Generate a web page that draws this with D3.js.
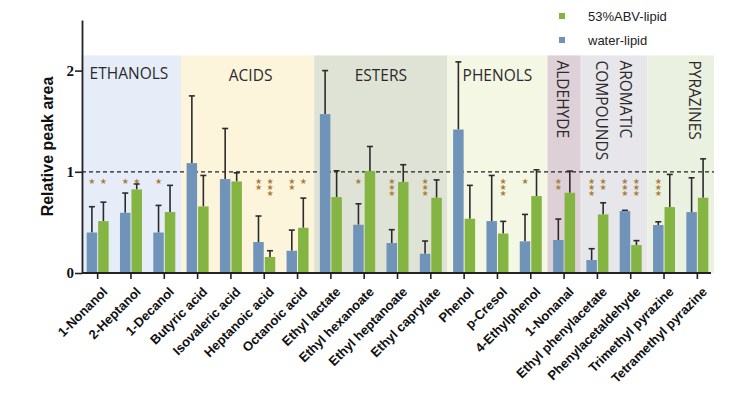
<!DOCTYPE html>
<html>
<head>
<meta charset="utf-8">
<script src="https://cdn.jsdelivr.net/npm/d3@7"></script>
<style>
  body { margin: 0; background: #fff; }
  svg { display: block; }
</style>
</head>
<body>
<div id="chart"></div>
<script>
// compounds on the x axis
const compounds = ["1-Nonanol", "2-Heptanol", "1-Decanol", "Butyric acid", "Isovaleric acid",
  "Heptanoic acid", "Octanoic acid", "Ethyl lactate", "Ethyl hexanoate", "Ethyl heptanoate",
  "Ethyl caprylate", "Phenol", "p-Cresol", "4-Ethylphenol", "1-Nonanal", "Ethyl phenylacetate",
  "Phenylacetaldehyde", "Trimethyl pyrazine", "Tetramethyl pyrazine"];

// water-lipid (blue)
const waterMean = [0.40, 0.595, 0.40, 1.086, 0.928, 0.306, 0.22, 1.57, 0.477, 0.296, 0.19,
  1.418, 0.513, 0.313, 0.326, 0.128, 0.612, 0.474, 0.602];
const waterErr = [0.655, 0.79, 0.668, 1.75, 1.428, 0.563, 0.424, 2.0, 0.684, 0.428, 0.316,
  2.086, 0.964, 0.579, 0.533, 0.24, 0.619, 0.506, 0.941];
// 53%ABV-lipid (green)
const abvMean = [0.513, 0.826, 0.602, 0.658, 0.905, 0.158, 0.447, 0.75, 1.007, 0.90, 0.744,
  0.536, 0.39, 0.76, 0.793, 0.579, 0.276, 0.651, 0.744];
const abvErr = [0.70, 0.88, 0.866, 0.964, 0.99, 0.22, 0.74, 1.01, 1.25, 1.07, 0.92,
  0.866, 0.51, 1.02, 1.007, 0.694, 0.32, 0.974, 1.128];

// number of significance stars above each bar
const waterStars = [1, 1, 1, 0, 0, 2, 2, 0, 1, 3, 3, 0, 0, 1, 2, 3, 3, 3, 0];
const abvStars   = [1, 1, 0, 0, 0, 3, 1, 0, 0, 0, 0, 0, 3, 0, 0, 2, 3, 0, 0];

// compound classes: label lines, first and last compound, fill
const groups = [
  { lines: ["ETHANOLS"], from: 0, to: 2, fill: "#e6edf9", vertical: false, dx: -2, base: 79 },
  { lines: ["ACIDS"], from: 3, to: 6, fill: "#fdf4dc", vertical: false, dx: 3, base: 81 },
  { lines: ["ESTERS"], from: 7, to: 10, fill: "#dfe3d5", vertical: false, dx: 0, base: 81 },
  { lines: ["PHENOLS"], from: 11, to: 13, fill: "#f4f7e4", vertical: false, dx: 0, base: 81 },
  { lines: ["ALDEHYDE"], from: 14, to: 14, fill: "#ddd0d6", vertical: true, dx: -1 },
  { lines: ["AROMATIC", "COMPOUNDS"], from: 15, to: 16, fill: "#e7e6ea", vertical: true, dx: 0 },
  { lines: ["PYRAZINES"], from: 17, to: 18, fill: "#ebf1e1", vertical: true, dx: 14 }
];

const yTicks = [0, 1, 2];
const seriesNames = ["53%ABV-lipid", "water-lipid"];
const blue = "#7093ba", green = "#84b441", starColor = "#a8803e";

const W = 737, H = 399;
const svg = d3.select("#chart").append("svg").attr("width", W).attr("height", H);

const x = d3.scaleBand().domain(compounds).range([81, 714]);
const y = d3.scaleLinear().domain([0, 2.5]).range([273, 20]);

// class backgrounds
svg.append("g").selectAll("rect").data(groups).join("rect")
  .attr("x", d => x(compounds[d.from]))
  .attr("width", d => x(compounds[d.to]) + x.bandwidth() - x(compounds[d.from]))
  .attr("y", y(2.15))
  .attr("height", y(0) - y(2.15))
  .attr("fill", d => d.fill);

// class labels
const gl = svg.append("g").attr("font-family", "'Open Sans', sans-serif")
  .attr("font-size", 15.5).attr("fill", "#2a2a2a");
groups.forEach(g => {
  const x0 = x(compounds[g.from]), x1 = x(compounds[g.to]) + x.bandwidth();
  const cx = (x0 + x1) / 2 + g.dx;
  if (!g.vertical) {
    gl.append("text").attr("x", cx).attr("y", g.base)
      .attr("text-anchor", "middle").text(g.lines[0]);
  } else {
    const n = g.lines.length;
    g.lines.forEach((line, i) => {
      const lx = cx + ((n - 1) / 2 - i) * 24 - 6;
      gl.append("text")
        .attr("transform", `translate(${lx},${y(2.15) + 5}) rotate(90)`)
        .attr("text-anchor", "start").text(line);
    });
  }
});

// reference line at 1
svg.append("line")
  .attr("x1", 82).attr("x2", 714).attr("y1", y(1)).attr("y2", y(1))
  .attr("stroke", "#222").attr("stroke-width", 1.2).attr("stroke-dasharray", "4,3");

const bw = 10.5;
const series = [
  { mean: waterMean, err: waterErr, stars: waterStars, color: blue, off: -bw - 0.5 },
  { mean: abvMean, err: abvErr, stars: abvStars, color: green, off: 0.5 }
];

series.forEach(s => {
  const g = svg.append("g");
  const cx = i => x(compounds[i]) + x.bandwidth() / 2 + s.off;
  // error whisker
  g.selectAll("line.err").data(compounds).join("line")
    .attr("x1", (d, i) => cx(i) + bw / 2).attr("x2", (d, i) => cx(i) + bw / 2)
    .attr("y1", (d, i) => y(s.mean[i])).attr("y2", (d, i) => y(s.err[i]))
    .attr("stroke", "#2b2b2b").attr("stroke-width", 1.6);
  g.selectAll("line.cap").data(compounds).join("line")
    .attr("x1", (d, i) => cx(i) + bw / 2 - 3).attr("x2", (d, i) => cx(i) + bw / 2 + 3)
    .attr("y1", (d, i) => y(s.err[i])).attr("y2", (d, i) => y(s.err[i]))
    .attr("stroke", "#2b2b2b").attr("stroke-width", 1.6);
  g.selectAll("rect").data(compounds).join("rect")
    .attr("x", (d, i) => cx(i)).attr("width", bw)
    .attr("y", (d, i) => y(s.mean[i]))
    .attr("height", (d, i) => y(0) - y(s.mean[i]))
    .attr("fill", s.color);
  // stars
  s.stars.forEach((n, i) => {
    for (let k = 0; k < n; k++) {
      g.append("text").attr("x", cx(i) + bw / 2).attr("y", 184 + k * 6)
        .attr("text-anchor", "middle").attr("font-family", "'DejaVu Sans', sans-serif")
        .attr("font-size", 8).attr("fill", starColor).text("\u2605");
    }
  });
});

// axes
const xAxis = svg.append("g").attr("transform", `translate(0,${y(0)})`)
  .call(d3.axisBottom(x).tickSize(6).tickSizeOuter(0));
xAxis.select(".domain").attr("stroke", "#222").attr("stroke-width", 1.8)
  .attr("d", `M82,0H711`);
xAxis.selectAll(".tick line").attr("stroke", "#222").attr("stroke-width", 1.6);
xAxis.selectAll(".tick text")
  .attr("font-family", "'Liberation Sans', Arial, sans-serif")
  .attr("font-weight", "bold").attr("font-size", 13).attr("fill", "#111")
  .attr("text-anchor", "end")
  .attr("transform", "translate(1,10) rotate(-45)")
  .attr("dy", "0.35em");

const yAxis = svg.append("g").attr("transform", "translate(82,0)")
  .call(d3.axisLeft(y).tickValues(yTicks).tickFormat(d3.format("d")).tickSize(7).tickSizeOuter(0));
yAxis.select(".domain").attr("stroke", "#222").attr("stroke-width", 1.8);
yAxis.selectAll(".tick line").attr("stroke", "#222").attr("stroke-width", 1.6);
yAxis.selectAll(".tick text")
  .attr("font-family", "'Liberation Serif', 'Times New Roman', serif")
  .attr("font-weight", "bold").attr("font-size", 15).attr("fill", "#111").attr("x", -8);

svg.append("text")
  .attr("transform", `translate(53,${y(1.25)}) rotate(-90)`)
  .attr("text-anchor", "middle")
  .attr("font-family", "'Liberation Sans', Arial, sans-serif")
  .attr("font-weight", "bold").attr("font-size", 16).attr("fill", "#111")
  .text("Relative peak area");

// legend
const lg = svg.append("g").attr("font-family", "'Liberation Sans', Arial, sans-serif")
  .attr("font-size", 13).attr("fill", "#222");
[green, blue].forEach((c, i) => {
  lg.append("rect").attr("x", 559).attr("y", 13 + i * 24).attr("width", 6).attr("height", 6).attr("fill", c);
  lg.append("text").attr("x", 588).attr("y", 16 + i * 24).attr("dy", "0.35em").text(seriesNames[i]);
});
</script>
</body>
</html>
